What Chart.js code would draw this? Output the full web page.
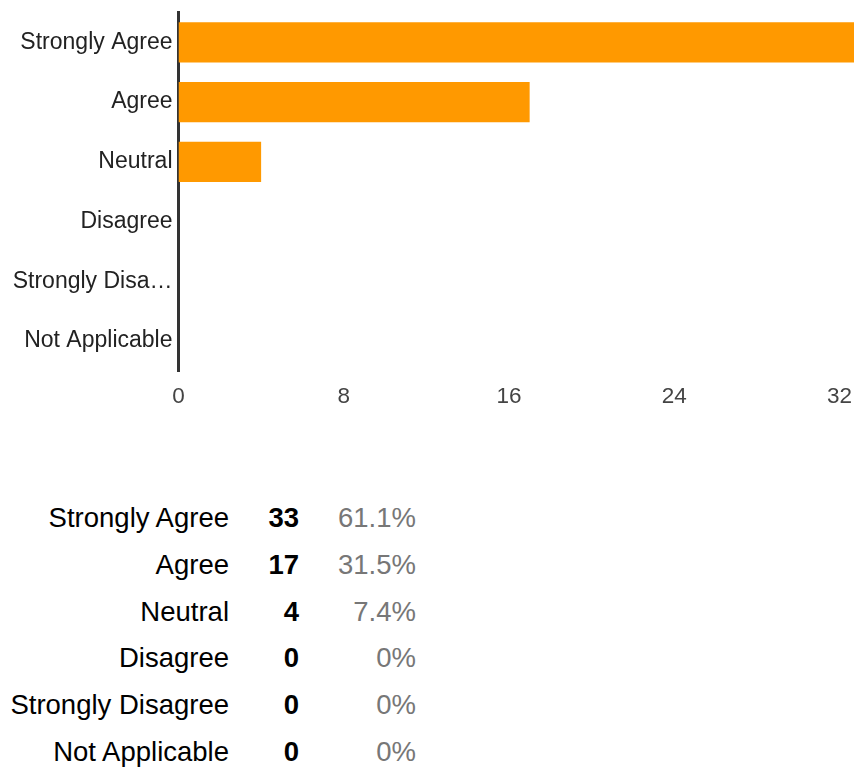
<!DOCTYPE html>
<html>
<head>
<meta charset="utf-8">
<script src="https://cdn.jsdelivr.net/npm/chart.js@4.4.1/dist/chart.umd.min.js"></script>
<style>
  html, body { margin: 0; padding: 0; background: #fff; overflow: hidden; }
  #page { position: relative; width: 854px; height: 769px; overflow: hidden; font-family: "Liberation Sans", Arial, sans-serif; }
  #wrap { position: absolute; left: 0; top: 0; width: 864px; height: 420px; }
  #table { position: absolute; left: 0; top: 494px; width: 854px; }
  .row { position: relative; height: 46.8px; line-height: 47px; font-size: 27.5px; white-space: nowrap; }
  .row span { position: absolute; top: 0; text-align: right; }
  .lab { left: 0; width: 229px; color: #000; }
  .cnt { left: 229px; width: 70px; color: #000; font-weight: bold; }
  .pct { left: 299px; width: 117px; color: #777; }
</style>
</head>
<body>
<div id="page">
  <div id="wrap"><canvas id="c" width="864" height="420"></canvas></div>
  <div id="table"></div>
</div>
<script>
const categories = ["Strongly Agree", "Agree", "Neutral", "Disagree", "Strongly Disagree", "Not Applicable"];
const counts = [33, 17, 4, 0, 0, 0];
const percentLabels = ["61.1%", "31.5%", "7.4%", "0%", "0%", "0%"];
const xTickValues = [0, 8, 16, 24, 32];

const FONT = '"Liberation Sans", Arial, sans-serif';

new Chart(document.getElementById('c'), {
  type: 'bar',
  data: {
    labels: categories,
    datasets: [{
      data: counts,
      backgroundColor: '#ff9900',
      borderWidth: 0,
      barPercentage: 0.67,
      categoryPercentage: 1.0
    }]
  },
  options: {
    indexAxis: 'y',
    responsive: false,
    animation: false,
    events: [],
    layout: { padding: { top: 12.5, right: 0, bottom: 0, left: 0 } },
    plugins: { legend: { display: false }, tooltip: { enabled: false } },
    scales: {
      x: {
        type: 'linear',
        min: 0,
        max: 33,
        grid: { display: false, drawTicks: false },
        border: { display: false },
        afterBuildTicks: (axis) => { axis.ticks = xTickValues.map(v => ({ value: v })); },
        afterFit: (axis) => { axis.height = 49; },
        ticks: {
          color: '#444',
          font: { family: FONT, size: 22.5 },
          padding: 12,
          maxRotation: 0,
          autoSkip: false
        }
      },
      y: {
        z: 1,
        grid: { display: false, drawTicks: false },
        border: { display: true, color: '#333', width: 3 },
        afterFit: (axis) => { axis.width = 178.5; axis.paddingTop = 0; axis.paddingBottom = 0; },
        ticks: {
          color: '#222',
          font: { family: FONT, size: 23, lineHeight: 0.5 },
          padding: 6,
          autoSkip: false,
          callback: function (value) {
            const s = this.getLabelForValue(value);
            return s.length > 14 ? s.slice(0, 13) + '\u2026' : s;
          }
        }
      }
    }
  }
});

const table = document.getElementById('table');
categories.forEach((cat, i) => {
  const row = document.createElement('div');
  row.className = 'row';
  const a = document.createElement('span'); a.className = 'lab'; a.textContent = cat;
  const b = document.createElement('span'); b.className = 'cnt'; b.textContent = String(counts[i]);
  const c = document.createElement('span'); c.className = 'pct'; c.textContent = percentLabels[i];
  row.appendChild(a); row.appendChild(b); row.appendChild(c);
  table.appendChild(row);
});
</script>
</body>
</html>
